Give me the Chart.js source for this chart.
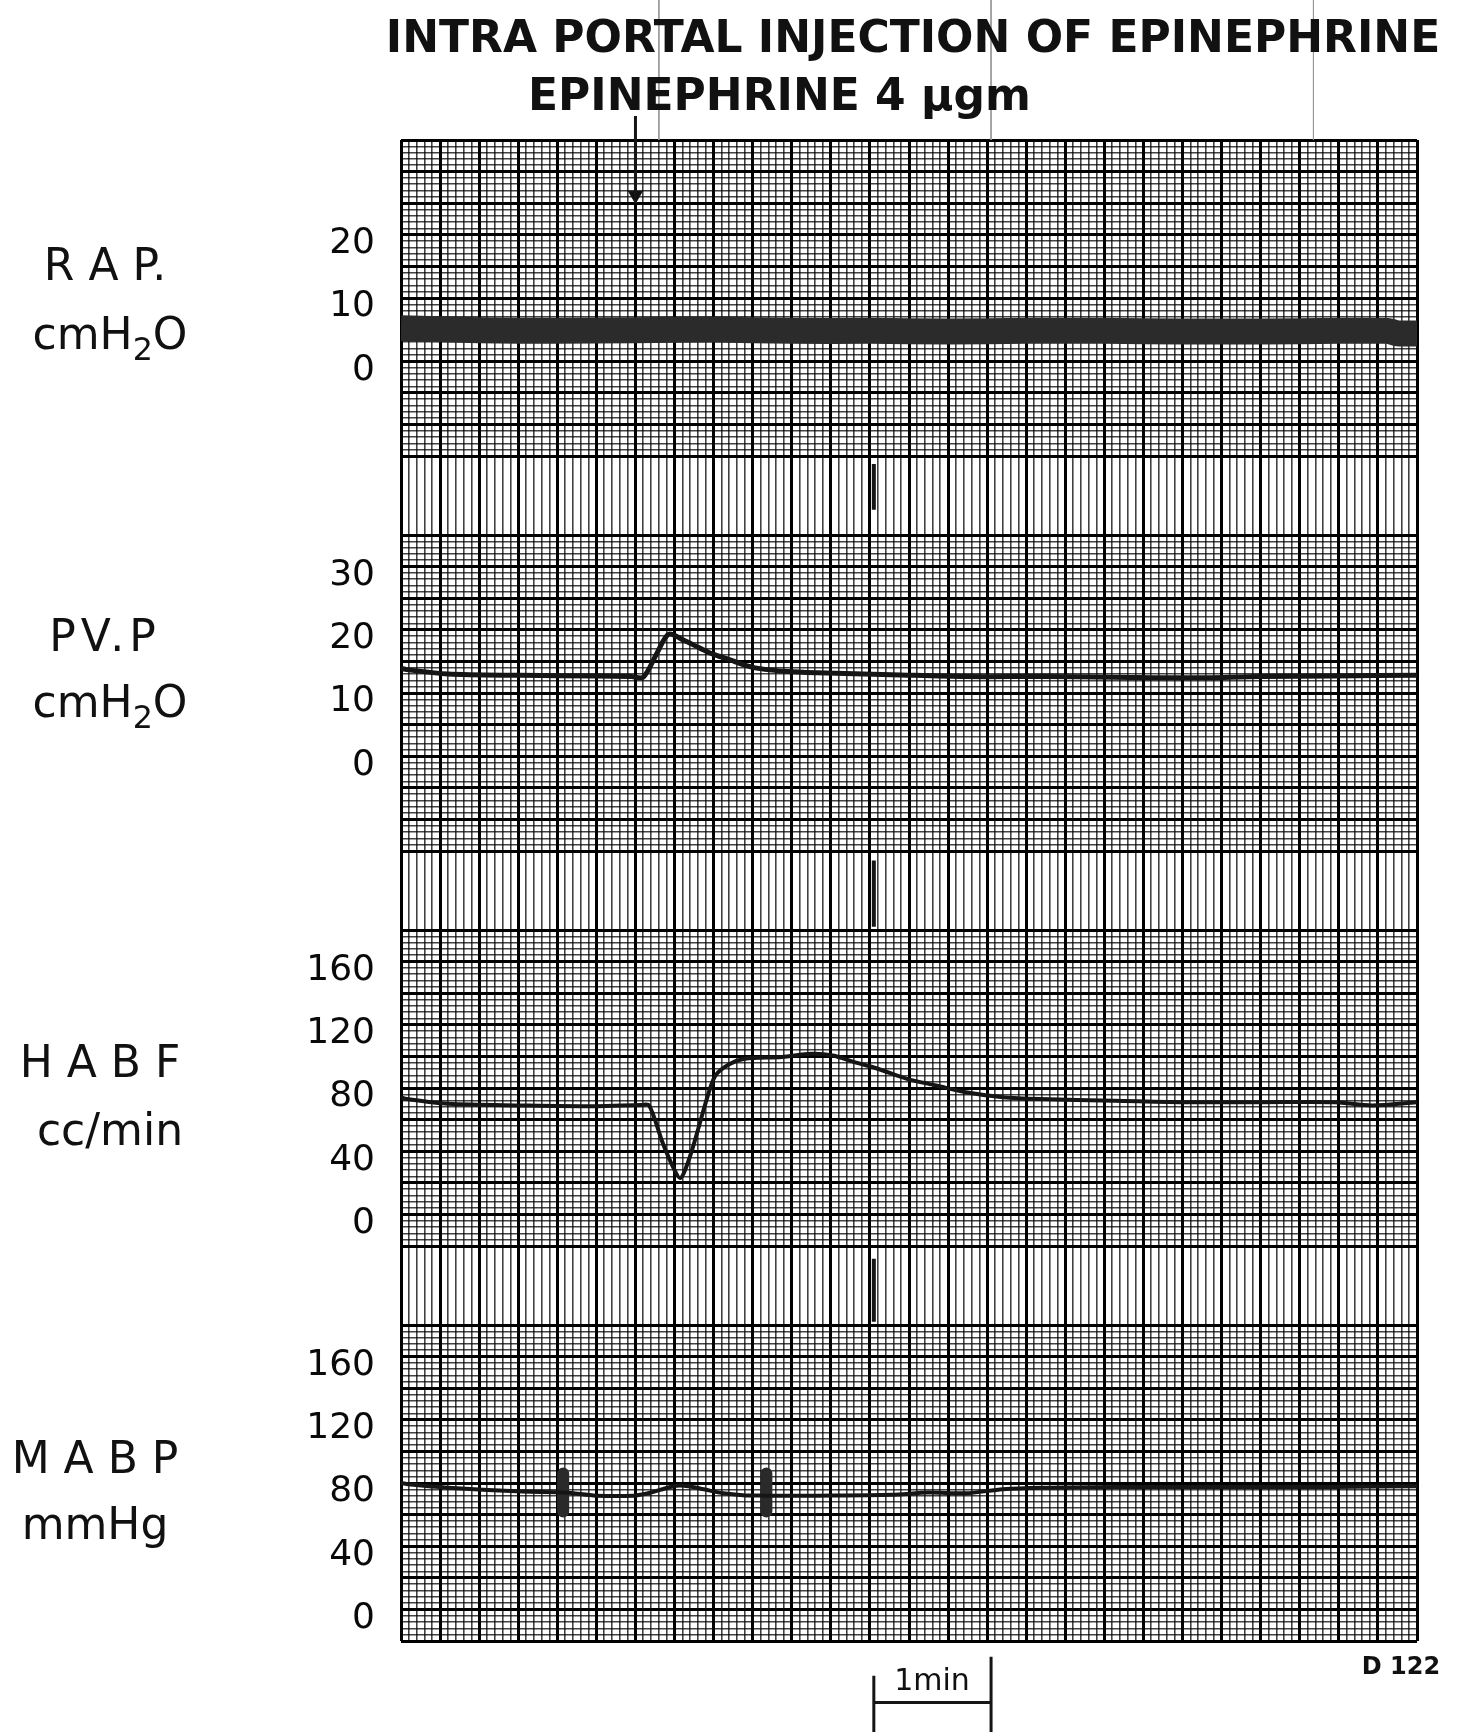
<!DOCTYPE html>
<html><head><meta charset="utf-8">
<script src="https://cdn.jsdelivr.net/npm/chart.js@4.4.1/dist/chart.umd.min.js"></script>
<style>
html,body{margin:0;padding:0;background:#fff;}
#wrap{position:relative;width:1458px;height:1732px;overflow:hidden;}
#wrap canvas{position:absolute;left:0;top:0;}
.t{position:absolute;font-family:'DejaVu Sans',sans-serif;color:#111;white-space:nowrap;transform:translate(-50%,-50%);line-height:1;}
.lab{font-size:44px;}
.lab sub{font-size:0.72em;vertical-align:-0.35em;line-height:0;}
</style></head>
<body><div id="wrap"><canvas id="c" width="1458" height="1732"></canvas>
<div class="t" style="left:913px;top:37px;font-size:44px;font-weight:bold;">INTRA PORTAL INJECTION OF EPINEPHRINE</div>
<div class="t" style="left:528px;top:95px;font-size:44px;font-weight:bold;transform:translate(0,-50%);">EPINEPHRINE 4 μgm</div>
<div class="t lab" style="left:105px;top:265px;">R A P.</div>
<div class="t lab" style="left:110px;top:334px;">cmH<sub>2</sub>O</div>
<div class="t lab" style="left:105px;top:636px;letter-spacing:5px;">PV.P</div>
<div class="t lab" style="left:110px;top:702px;">cmH<sub>2</sub>O</div>
<div class="t lab" style="left:100px;top:1062px;">H A B F</div>
<div class="t lab" style="left:110px;top:1130px;">cc/min</div>
<div class="t lab" style="left:95px;top:1458px;">M A B P</div>
<div class="t lab" style="left:95px;top:1524px;">mmHg</div>
<div class="t" style="left:932px;top:1680px;font-size:30px;">1min</div>
<div class="t" style="left:1401px;top:1666px;font-size:24px;font-weight:bold;">D 122</div>
</div>
<script>
// ---- data (time in seconds, 1 major paper division = 20 s) ----
const rapTime   = [0, 40, 80, 120, 160, 200, 240, 280, 320, 360, 400, 440, 480, 505, 510, 520];
const rapValues = [5.2, 4.9, 4.8, 4.9, 5.0, 4.8, 4.8, 4.7, 4.8, 4.8, 4.7, 4.7, 4.8, 4.8, 4.4, 4.4];

const pvpTime   = [0, 3, 24, 62, 100, 118, 124, 131, 137, 145, 153, 160, 168, 175, 183, 198, 213, 251, 289, 327, 365, 403, 440, 478, 520];
const pvpValues = [13.9, 13.7, 13.0, 12.8, 12.7, 12.6, 12.5, 16.3, 19.3, 18.3, 17.1, 16.1, 15.3, 14.5, 13.9, 13.4, 13.2, 12.9, 12.6, 12.6, 12.5, 12.4, 12.6, 12.7, 12.8];

const habfTime   = [0, 3, 24, 62, 100, 123, 127, 134, 140, 143, 146, 150, 157, 161, 168, 176, 195, 210, 221, 232, 244, 259, 274, 289, 308, 327, 365, 403, 441, 478, 497, 520];
const habfValues = [74, 73, 70, 69, 68.5, 69.3, 69, 45, 28, 23, 30, 45, 75, 88, 95, 98.5, 99.6, 101.7, 100.6, 96.4, 92.2, 85.8, 81.6, 77.3, 74.2, 73, 72, 71, 71, 71, 69, 71];

const mabpTime   = [0, 5, 24, 62, 84, 100, 119, 128, 135, 141, 147, 155, 165, 175, 186, 195, 213, 251, 270, 289, 308, 327, 365, 403, 441, 478, 520];
const mabpValues = [80, 79, 77, 74.6, 74, 72, 72, 74, 76.5, 78.3, 78, 76, 73.5, 72.3, 72, 72, 72, 72.5, 74, 73.5, 76, 77, 77.5, 77.5, 77.5, 77.5, 78];

const mabpMarkTimes = [83, 187];
const mabpMarkLow = 62, mabpMarkHigh = 86;

const injectionTime = 120;
const eventTime = 242;
const scaleBarStart = 242, scaleBarEnd = 302;
const creaseTimes = [132, 302, 467];

// tick labels
const rapTicks  = [0, 10, 20];
const pvpTicks  = [0, 10, 20, 30];
const habfTicks = [0, 40, 80, 120, 160];
const mabpTicks = [0, 40, 80, 120, 160];

// ---- paper grid geometry (in paper divisions from the top) ----
const sectionStarts = [0, 12.5, 25, 37.5];
const sectionLen = 10;
const paperMax = 47.5;
const paperLines = [];
sectionStarts.forEach(s => {
  for (let k = 0; k <= sectionLen * 5; k++) paperLines.push({value: s + k / 5, major: k % 5 === 0});
});
const timeLines = [];
for (let k = 0; k <= 130; k++) timeLines.push({value: k * 4, major: k % 5 === 0});

const pts = (xs, ys) => xs.map((x, i) => ({x, y: ys[i]}));
const markData = [];
mabpMarkTimes.forEach(t => { markData.push({x:t,y:mabpMarkLow},{x:t,y:mabpMarkHigh},{x:t,y:null}); });

const bandMarks = [[10.25, 11.7], [22.8, 24.9], [35.4, 37.4]];
const eventData = [];
bandMarks.forEach(b => { eventData.push({x:eventTime,y:b[0]},{x:eventTime,y:b[1]},{x:eventTime,y:null}); });
const creaseData = [];
creaseTimes.forEach(t => { creaseData.push({x:t,y:-4.45},{x:t,y:0},{x:t,y:null}); });

const panel = (ticksArr, min, max, stackWeight, weight) => ({
  type: 'linear', position: 'left', stack: 'paper', stackWeight, weight, min, max, bounds: 'data',
  grid: {display: false, drawTicks: false}, border: {display: false},
  ticks: {autoSkip: false, padding: 26, labelOffset: 9, color: '#0a0a0a', font: {family: 'DejaVu Sans', size: 36}},
  afterBuildTicks: s => { s.ticks = ticksArr.map(v => ({value: v})); },
  afterFit: s => { s.width = 120; }
});

const lineDs = (label, axis, data, width, extra) => Object.assign({
  label, yAxisID: axis, data, borderColor: '#151515', borderWidth: width,
  pointRadius: 0, tension: 0.3, fill: false
}, extra || {});

const gridColor = c => (c.tick && c.tick.major) ? '#000' : 'rgba(0,0,0,0.74)';
const gridWidth = c => (c.tick && c.tick.major) ? 3 : 1.6;

new Chart(document.getElementById('c'), {
  type: 'line',
  data: {
    datasets: [
      lineDs('RAP', 'rap', pts(rapTime, rapValues), 26, {borderColor: '#2b2b2b', tension: 0.2}),
      lineDs('PVP', 'pvp', pts(pvpTime, pvpValues), 5),
      lineDs('HABF', 'habf', pts(habfTime, habfValues), 4),
      lineDs('MABP', 'mabp', pts(mabpTime, mabpValues), 4),
      lineDs('MABP marks', 'mabp', markData, 12, {tension: 0, borderCapStyle: 'round', spanGaps: false, borderColor: '#2a2a2a'}),
      lineDs('events', 'paper', eventData, 4, {tension: 0, spanGaps: false}),
      lineDs('creases', 'paper', creaseData, 1, {tension: 0, clip: false, spanGaps: false, borderColor: '#999'}),
      lineDs('injection', 'paper', [{x: injectionTime, y: -0.76}, {x: injectionTime, y: 2.0}], 3, {tension: 0, clip: false}),
      {label: 'arrowhead', type: 'scatter', yAxisID: 'paper', data: [{x: injectionTime, y: 1.75}],
        pointStyle: 'triangle', rotation: 180, pointRadius: 8, backgroundColor: '#111', borderColor: '#111', clip: false},
      lineDs('1 min', 'paper', [{x: scaleBarStart, y: 48.6}, {x: scaleBarStart, y: 50.6}, {x: scaleBarStart, y: null},
        {x: scaleBarEnd, y: 48.0}, {x: scaleBarEnd, y: 50.6}, {x: scaleBarEnd, y: null},
        {x: scaleBarStart, y: 49.45}, {x: scaleBarEnd, y: 49.45}], 3, {tension: 0, clip: false, spanGaps: false})
    ]
  },
  options: {
    responsive: false, animation: false, devicePixelRatio: 1,
    layout: {padding: {left: 281, right: 41, top: 140, bottom: 91}},
    plugins: {legend: {display: false}, tooltip: {enabled: false}, title: {display: false}},
    scales: {
      x: {
        type: 'linear', min: 0, max: 520, bounds: 'data', position: 'bottom',
        ticks: {display: false}, border: {display: false},
        grid: {drawTicks: false, color: gridColor, lineWidth: gridWidth},
        afterBuildTicks: s => { s.ticks = timeLines.map(t => ({value: t.value, major: t.major})); },
        afterFit: s => { s.height = 0; }
      },
      paper: {
        type: 'linear', position: 'right', min: 0, max: paperMax, reverse: true, bounds: 'data',
        ticks: {display: false}, border: {display: false},
        grid: {drawTicks: false, color: gridColor, lineWidth: gridWidth},
        afterBuildTicks: s => { s.ticks = paperLines.map(t => ({value: t.value, major: t.major})); },
        afterFit: s => { s.width = 0; }
      },
      rap:  panel(rapTicks, -27.5, 35, 12.5, 4),
      pvp:  panel(pvpTicks, -27.5, 35, 12.5, 3),
      habf: panel(habfTicks, -70, 180, 12.5, 2),
      mabp: panel(mabpTicks, -20, 180, 10, 1)
    }
  }
});
</script>
</body></html>
